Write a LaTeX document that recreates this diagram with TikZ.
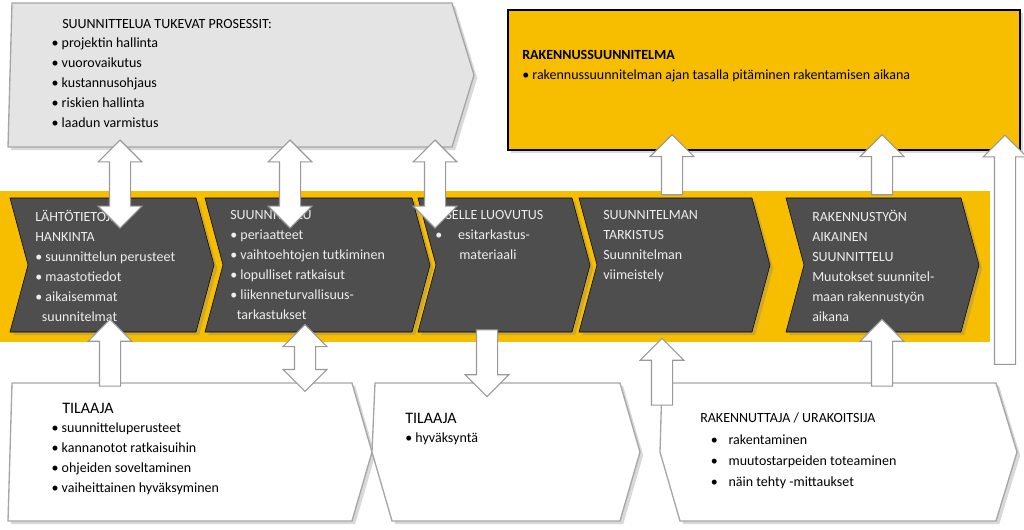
\documentclass[tikz,border=0pt]{standalone}
\usepackage{fontspec}
\setmainfont{Carlito}
\usetikzlibrary{shapes.arrows, shadows}

\definecolor{bandyellow}{HTML}{F7BE00}
\definecolor{stepgray}{HTML}{4E4E4E}
\definecolor{procgray}{HTML}{E4E4E4}
\definecolor{steptext}{HTML}{EDEDED}

\tikzset{
  chevron/.style={fill=stepgray, drop shadow={opacity=0.35}},
  infobox/.style={draw=gray!70, line width=1pt, drop shadow={opacity=0.3}},
  steplabel/.style={anchor=north west, align=left, inner sep=0pt, text=steptext,
    font=\fontsize{10.5}{15}\selectfont},
  boxlabel/.style={anchor=north west, align=left, inner sep=0pt,
    font=\fontsize{10.5}{15}\selectfont},
  uparrow/.style={single arrow, draw=gray!80, fill=white, line width=0.8pt,
    minimum width=32pt, single arrow head extend=8.5pt, inner xsep=0pt,
    inner ysep=7.5pt, rotate=90},
  twoarrow/.style={double arrow, draw=gray!80, fill=white, line width=0.8pt,
    minimum width=32pt, double arrow head extend=8.5pt, inner xsep=0pt,
    inner ysep=7.5pt, rotate=90}
}

\begin{document}
\begin{tikzpicture}[x=0.75pt, y=-0.75pt]
    \useasboundingbox (0,0) rectangle (1024,529);

    % Top boxes
    \draw[infobox, fill=procgray] (12,3) -- (452,3) -- (474,75) -- (452,147) -- (8,147) -- cycle;
    \draw[fill=bandyellow, line width=1.2pt, drop shadow={opacity=0.3}] (508,10) rectangle (1020,150);

    % Yellow band and steps
    \fill[bandyellow] (0,191) rectangle (990,342);
    \draw[chevron] (10,198) -- (196,198) -- (214,265) -- (196,332) -- (10,332) -- (28,265) -- cycle;
    \draw[chevron] (205,198) -- (412,198) -- (430,265) -- (412,332) -- (205,332) -- (223,265) -- cycle;
    \draw[chevron] (418,198) -- (572,198) -- (590,265) -- (572,332) -- (418,332) -- (436,265) -- cycle;
    \draw[chevron] (579,198) -- (752,198) -- (770,265) -- (752,332) -- (579,332) -- (597,265) -- cycle;
    \draw[chevron] (786,198) -- (961,198) -- (979,265) -- (961,332) -- (786,332) -- (804,265) -- cycle;

    % Bottom boxes
    \draw[infobox, fill=white] (12,383) -- (352,383) -- (372,452) -- (352,521) -- (8,521) -- cycle;
    \draw[infobox, fill=white] (375,383) -- (620,383) -- (640,452) -- (620,521) -- (392,521) -- (372,452) -- cycle;
    \draw[infobox, fill=white] (662,383) -- (996,383) -- (1017,452) -- (996,521) -- (680,521) -- (660,452) -- cycle;

    % Texts
    \node[boxlabel] (proc) at (62,19) {SUUNNITTELUA TUKEVAT PROSESSIT:\\[-1pt]
      \hspace{-8pt}• projektin hallinta\\ \hspace{-8pt}• vuorovaikutus\\ \hspace{-8pt}• kustannusohjaus\\
      \hspace{-8pt}• riskien hallinta\\ \hspace{-8pt}• laadun varmistus};
    \node[boxlabel] (plan) at (522,50) {\textbf{RAKENNUSSUUNNITELMA}\\
      • rakennussuunnitelman ajan tasalla pitäminen rakentamisen aikana};

    \node[steplabel] (hank) at (35,210) {LÄHTÖTIETOJEN\\HANKINTA\\• suunnittelun perusteet\\
      • maastotiedot\\• aikaisemmat\\\hspace{5pt}suunnitelmat};
    \node[steplabel] (suun) at (230,210) {SUUNNITTELU\\• periaatteet\\• vaihtoehtojen tutkiminen\\
      • lopulliset ratkaisut\\• liikenneturvallisuus-\\\hspace{5pt}tarkastukset};
    \node[steplabel] (luov) at (435,210) {ITSELLE LUOVUTUS\\•\hspace{12pt}esitarkastus-\\
      \hspace{18pt}materiaali};
    \node[steplabel] (tark) at (603,210) {SUUNNITELMAN\\TARKISTUS\\Suunnitelman\\viimeistely};
    \node[steplabel] (aik) at (812,210) {RAKENNUSTYÖN\\AIKAINEN\\SUUNNITTELU\\
      Muutokset suunnitel-\\maan rakennustyön\\aikana};

    \node[boxlabel] (til1) at (62,403) {\large TILAAJA\\[-1pt]
      \hspace{-8pt}• suunnitteluperusteet\\ \hspace{-8pt}• kannanotot ratkaisuihin\\
      \hspace{-8pt}• ohjeiden soveltaminen\\ \hspace{-8pt}• vaiheittainen hyväksyminen};
    \node[boxlabel] (til2) at (405,413) {\large TILAAJA\\[-1pt]• hyväksyntä};
    \node[boxlabel] (urak) at (700,413) {RAKENNUTTAJA / URAKOITSIJA\\[1pt]
      \hspace{8pt}•\hspace{8pt}rakentaminen\\[1pt] \hspace{8pt}•\hspace{8pt}muutostarpeiden toteaminen\\[1pt]
      \hspace{8pt}•\hspace{8pt}näin tehty -mittaukset};

    % Block arrows
    \node[twoarrow, minimum height=66pt] (a1) at (120,184) {};
    \node[twoarrow, minimum height=66pt] (a2) at (290,184) {};
    \node[twoarrow, minimum height=66pt] (a3) at (435,184) {};
    \node[uparrow, minimum height=45pt] (a4) at (672,170) {};
    \node[uparrow, minimum height=45pt] (a5) at (882,170) {};
    \node[uparrow, minimum height=172pt] (a6) at (1005,255) {};
    \node[uparrow, minimum height=50pt] (a7) at (110,358) {};
    \node[twoarrow, minimum height=50pt] (a8) at (305,358) {};
    \node[uparrow, minimum height=50pt, rotate=180] (a9) at (487,358) {};
    \node[uparrow, minimum height=50pt] (a10) at (662,377) {};
    \node[uparrow, minimum height=50pt] (a11) at (882,358) {};
\end{tikzpicture}
\end{document}
